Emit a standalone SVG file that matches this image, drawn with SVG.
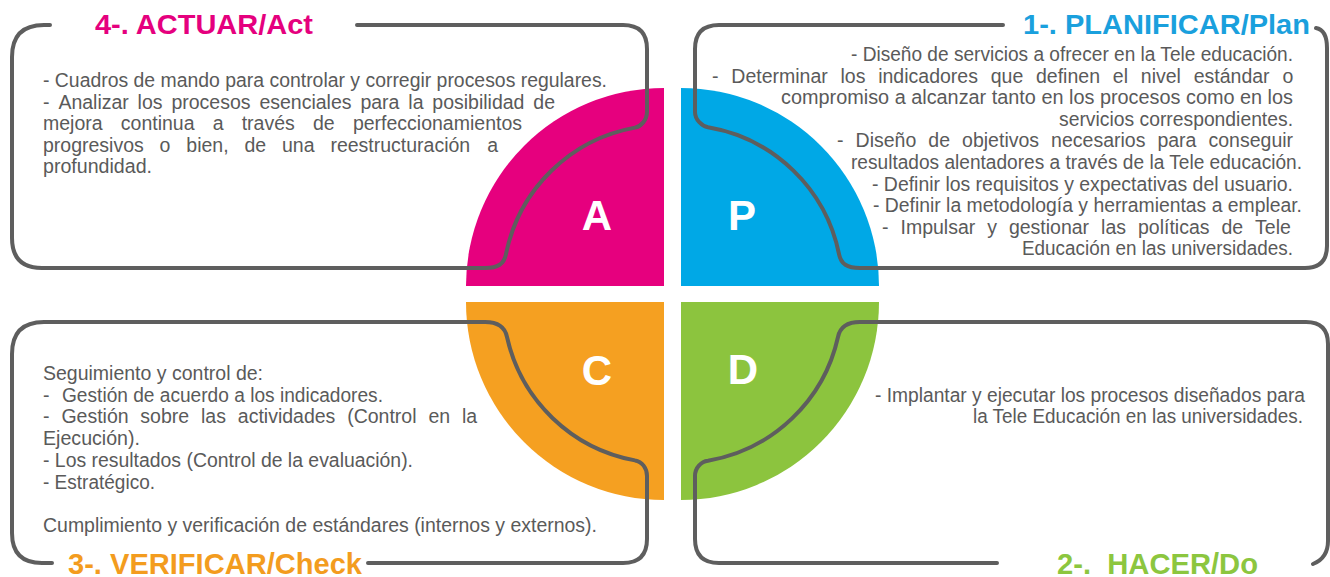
<svg xmlns="http://www.w3.org/2000/svg" width="1330" height="577" viewBox="0 0 1330 577">
<style>
.frame{fill:none;stroke:#5e5e5e;stroke-width:4;stroke-linecap:round;stroke-linejoin:round}
.body{font-family:"Liberation Sans",Arial,sans-serif;font-size:19.5px;fill:#5a5a5a}
.title{font-family:"Liberation Sans",Arial,sans-serif;font-size:28px;font-weight:bold}
.title-b{font-family:"Liberation Sans",Arial,sans-serif;font-size:30px;font-weight:bold}
.letter{font-family:"Liberation Sans",Arial,sans-serif;font-size:42px;font-weight:bold;fill:#ffffff;text-anchor:middle}
</style>
<rect width="1330" height="577" fill="#ffffff"/>

<g id="quadrants">
  <path id="quad-A" d="M664,286 L466,286 A198 198 0 0 1 664,88 Z" fill="#E6007E"/>
  <path id="quad-P" d="M681,286 L681,88 A198 198 0 0 1 879,286 Z" fill="#00A8E6"/>
  <path id="quad-C" d="M664,302 L664,500 A198 198 0 0 1 466,302 Z" fill="#F5A021"/>
  <path id="quad-D" d="M681,302 L879,302 A198 198 0 0 1 681,500 Z" fill="#8CC43E"/>
  <text class="letter" x="597" y="230">A</text>
  <text class="letter" x="742" y="230">P</text>
  <text class="letter" x="597" y="385">C</text>
  <text class="letter" x="743" y="384">D</text>
</g>

<g id="node-act">
  <path class="frame" d="M357,25 L623,25 Q647,25 647,49 L647,112 C647,120 641,126.5 635,127.6 A161 161 0 0 0 506,254 C504,264 498,268 485,268 L42,268 Q12,268 12,238 L12,57 Q12,25 44,25 L50,25"/>
  <text class="title" x="95" y="34" fill="#E5007E" textLength="218" lengthAdjust="spacingAndGlyphs">4-. ACTUAR/Act</text>
  <text class="body" y="87" x="43" textLength="564" lengthAdjust="spacingAndGlyphs">- Cuadros de mando para controlar y corregir procesos regulares.</text>
  <text class="body" y="108.5"><tspan x="43">-</tspan><tspan x="58.4">Analizar</tspan><tspan x="137.6">los</tspan><tspan x="171.4">procesos</tspan><tspan x="259.4">esenciales</tspan><tspan x="360.4">para</tspan><tspan x="408.3">la</tspan><tspan x="432.3">posibilidad</tspan><tspan x="533.3">de</tspan></text>
  <text class="body" y="130"><tspan x="43">mejora</tspan><tspan x="120.8">continua</tspan><tspan x="212.7">a</tspan><tspan x="241.7">través</tspan><tspan x="313">de</tspan><tspan x="352.9">perfeccionamientos</tspan></text>
  <text class="body" y="151.5"><tspan x="43">progresivos</tspan><tspan x="159.6">o</tspan><tspan x="186.3">bien,</tspan><tspan x="244.4">de</tspan><tspan x="282">una</tspan><tspan x="330.4">reestructuración</tspan><tspan x="487.2">a</tspan></text>
  <text class="body" y="173" x="43" textLength="109" lengthAdjust="spacingAndGlyphs">profundidad.</text>
</g>

<g id="node-plan">
  <path class="frame" d="M1003,25 L719,25 Q695,25 695,49 L695,112 C695,120 702,126 708,127.3 A161 161 0 0 1 839,254 C841,264 847,268 860,268 L1305,268 Q1327,268 1327,246 L1327,48 Q1327,30 1316,28"/>
  <text class="title" x="1023" y="34" fill="#1AA0DD" textLength="287" lengthAdjust="spacingAndGlyphs">1-. PLANIFICAR/Plan</text>
  <text class="body" y="61" x="851" textLength="442" lengthAdjust="spacingAndGlyphs">- Diseño de servicios a ofrecer en la Tele educación.</text>
  <text class="body" y="82.6"><tspan x="712">-</tspan><tspan x="731.3">Determinar</tspan><tspan x="840.5">los</tspan><tspan x="878.2">indicadores</tspan><tspan x="990.7">que</tspan><tspan x="1036">definen</tspan><tspan x="1112.8">el</tspan><tspan x="1140.8">nivel</tspan><tspan x="1193.7">estándar</tspan><tspan x="1282.4">o</tspan></text>
  <text class="body" y="104" x="781" textLength="512" lengthAdjust="spacingAndGlyphs">compromiso a alcanzar tanto en los procesos como en los</text>
  <text class="body" y="125.8" x="1059" textLength="234" lengthAdjust="spacingAndGlyphs">servicios correspondientes.</text>
  <text class="body" y="147.4"><tspan x="837">-</tspan><tspan x="855.6">Diseño</tspan><tspan x="928.3">de</tspan><tspan x="962.1">objetivos</tspan><tspan x="1051.1">necesarios</tspan><tspan x="1157.4">para</tspan><tspan x="1208.5">conseguir</tspan></text>
  <text class="body" y="169" x="851" textLength="451" lengthAdjust="spacingAndGlyphs">resultados alentadores a través de la Tele educación.</text>
  <text class="body" y="190.6" x="872" textLength="421" lengthAdjust="spacingAndGlyphs">- Definir los requisitos y expectativas del usuario.</text>
  <text class="body" y="212" x="873" textLength="429" lengthAdjust="spacingAndGlyphs">- Definir la metodología y herramientas a emplear.</text>
  <text class="body" y="233.8"><tspan x="882">-</tspan><tspan x="900.5">Impulsar</tspan><tspan x="987.2">y</tspan><tspan x="1008.9">gestionar</tspan><tspan x="1101.1">las</tspan><tspan x="1138">políticas</tspan><tspan x="1221.5">de</tspan><tspan x="1255.1">Tele</tspan></text>
  <text class="body" y="255.4" x="1022" textLength="271" lengthAdjust="spacingAndGlyphs">Educación en las universidades.</text>
</g>

<g id="node-check">
  <path class="frame" d="M368,563 L623,563 Q647,563 647,539 L647,476 C647,468 642,461.5 635,460.4 A161 161 0 0 1 507,337 C505,327 498,322 485,322 L44,322 Q12,322 12,354 L12,533 Q12,563 42,563 L52,563"/>
  <text class="title-b" x="68" y="573.5" fill="#F39C1E" textLength="294" lengthAdjust="spacingAndGlyphs">3-. VERIFICAR/Check</text>
  <text class="body" y="380" x="43" textLength="220" lengthAdjust="spacingAndGlyphs">Seguimiento y control de:</text>
  <text class="body" y="401.7"><tspan x="43">-</tspan><tspan x="62" textLength="321" lengthAdjust="spacingAndGlyphs">Gestión de acuerdo a los indicadores.</tspan></text>
  <text class="body" y="423.3"><tspan x="43">-</tspan><tspan x="61.4">Gestión</tspan><tspan x="140.3">sobre</tspan><tspan x="201">las</tspan><tspan x="237.8">actividades</tspan><tspan x="347.2">(Control</tspan><tspan x="428.4">en</tspan><tspan x="462">la</tspan></text>
  <text class="body" y="445" x="43" textLength="97" lengthAdjust="spacingAndGlyphs">Ejecución).</text>
  <text class="body" y="466.7" x="43" textLength="370" lengthAdjust="spacingAndGlyphs">- Los resultados (Control de la evaluación).</text>
  <text class="body" y="488.5" x="43" textLength="112" lengthAdjust="spacingAndGlyphs">- Estratégico.</text>
  <text class="body" y="532" x="43" textLength="554" lengthAdjust="spacingAndGlyphs">Cumplimiento y verificación de estándares (internos y externos).</text>
</g>

<g id="node-do">
  <path class="frame" d="M997,563 L719,563 Q695,563 695,539 L695,476 C695,468 701,461.5 708,460.7 A161 161 0 0 0 838,337 C840,327 847,322 860,322 L1306,322 Q1328,322 1328,344 L1328,541 Q1328,558 1313,564"/>
  <text class="title-b" x="1057" y="573.5" fill="#8CC63F" textLength="201" lengthAdjust="spacingAndGlyphs" xml:space="preserve">2-.  HACER/Do</text>
  <text class="body" y="401.7" x="875" textLength="430" lengthAdjust="spacingAndGlyphs">- Implantar y ejecutar los procesos diseñados para</text>
  <text class="body" y="422.7" x="973" textLength="330" lengthAdjust="spacingAndGlyphs">la Tele Educación en las universidades.</text>
</g>
</svg>
